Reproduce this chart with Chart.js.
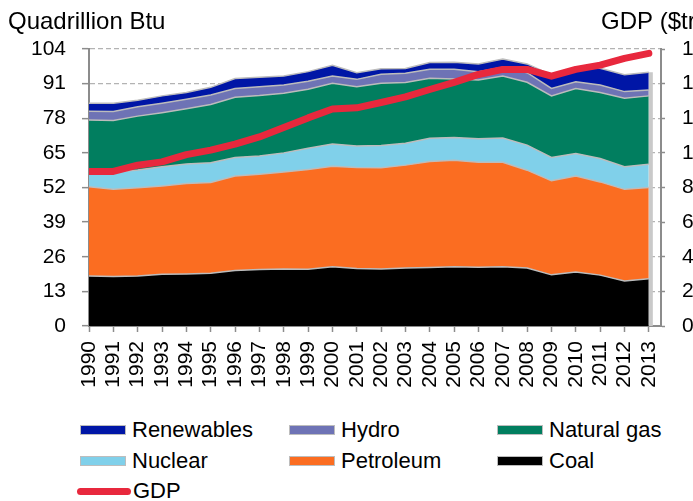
<!DOCTYPE html>
<html>
<head>
<meta charset="utf-8">
<script src="https://cdn.jsdelivr.net/npm/chart.js@4.4.0/dist/chart.umd.min.js"></script>
<style>
  html, body { margin: 0; padding: 0; background: #fff; overflow: hidden; }
  #wrap { position: relative; width: 693px; height: 501px; overflow: hidden; }
  #chartBox { position: absolute; left: 0; top: 0; width: 770px; height: 400px; }
  .item {
    position: absolute; height: 24px; display: flex; align-items: center; white-space: nowrap;
    font-family: 'Liberation Sans', Arial, sans-serif; font-size: 22px; color: #000;
  }
  .swatch { width: 44px; height: 8px; border: 1.5px solid #bdbdbd; margin-right: 6px; }
  .line { width: 54px; height: 7px; border-radius: 4px; margin-right: 2px; }
</style>
</head>
<body>
<div id="wrap">
  <div id="chartBox"><canvas id="energyChart"></canvas></div>
  <div id="legend"></div>
</div>
<script>
const years = [1990, 1991, 1992, 1993, 1994, 1995, 1996, 1997, 1998, 1999, 2000, 2001,
               2002, 2003, 2004, 2005, 2006, 2007, 2008, 2009, 2010, 2011, 2012, 2013];

// Quadrillion Btu, stacked bottom to top
const coal       = [18.8, 18.6, 18.8, 19.4, 19.5, 19.8, 20.8, 21.2, 21.4, 21.3, 22.2, 21.6,
                    21.4, 21.8, 22.0, 22.2, 22.1, 22.2, 21.8, 19.2, 20.3, 19.1, 16.9, 17.7];
const petroleum  = [33.5, 32.7, 33.1, 33.2, 34.0, 34.1, 35.5, 35.8, 36.4, 37.5, 37.8, 37.9,
                    38.0, 38.6, 39.8, 40.0, 39.4, 39.3, 36.7, 35.3, 36.0, 35.0, 34.4, 34.3];
const nuclear    = [6.0, 6.4, 6.7, 7.2, 7.3, 7.4, 7.0, 6.8, 7.2, 7.9, 8.3, 8.1,
                    8.4, 8.2, 8.7, 8.6, 8.8, 9.1, 9.4, 8.8, 8.5, 8.8, 8.5, 8.7];
const naturalGas = [19.0, 19.5, 20.2, 20.3, 20.8, 21.9, 22.6, 22.7, 22.4, 22.2, 22.8, 22.2,
                    23.3, 22.8, 22.5, 21.9, 22.1, 23.3, 23.6, 23.1, 24.4, 24.8, 25.7, 25.7];
const hydro      = [3.3, 3.3, 3.5, 3.5, 3.5, 3.5, 3.3, 3.3, 3.1, 3.0, 2.8, 2.8,
                    3.4, 3.5, 3.4, 3.7, 3.1, 3.2, 3.6, 2.8, 2.5, 2.8, 2.5, 2.2];
const renewables = [3.0, 3.1, 2.5, 2.8, 2.6, 2.9, 3.7, 3.6, 3.4, 3.6, 4.0, 2.5,
                    2.1, 1.8, 2.5, 2.6, 2.9, 3.1, 3.3, 5.1, 5.1, 6.3, 6.3, 6.7];

// $ trillion
const gdp = [8.93, 8.93, 9.29, 9.48, 9.90, 10.16, 10.50, 10.92, 11.47, 12.02, 12.53, 12.60,
             12.91, 13.24, 13.66, 14.07, 14.53, 14.82, 14.82, 14.43, 14.82, 15.07, 15.46, 15.75];

const FONT = "'Liberation Sans', Arial, sans-serif";
const AXIS_GREY = '#8c8c8c';

const series = [
    { label: 'Coal', data: coal, color: '#000000' },
    { label: 'Petroleum', data: petroleum, color: '#fb6d21' },
    { label: 'Nuclear', data: nuclear, color: '#80d0ea' },
    { label: 'Natural gas', data: naturalGas, color: '#017e5f' },
    { label: 'Hydro', data: hydro, color: '#6e73b5' },
    { label: 'Renewables', data: renewables, color: '#0016a6' },
];
const GDP_COLOR = '#e8283d';

const toPoints = arr => years.map((yr, i) => ({ x: yr, y: arr[i] }));

const datasets = series.map((s, i) => ({
    label: s.label,
    data: toPoints(s.data),
    yAxisID: 'y',
    backgroundColor: s.color,
    borderColor: '#bcbcbc',
    borderWidth: 1.5,
    pointRadius: 0,
    tension: 0,
    fill: i === 0 ? 'origin' : '-1',
    order: 1,
}));
datasets.push({
    label: 'GDP',
    data: toPoints(gdp),
    yAxisID: 'y2',
    borderColor: GDP_COLOR,
    backgroundColor: GDP_COLOR,
    borderWidth: 7,
    borderCapStyle: 'round',
    borderJoinStyle: 'round',
    pointRadius: 0,
    tension: 0,
    fill: false,
    order: 0,
});

// titles above the two value axes + the grey edge at the end of the areas
const extras = {
    id: 'extras',
    beforeDatasetDraw(chart, args) {
        if (args.index !== datasets.length - 1) return;
        const { ctx, scales } = chart;
        const last = years.length - 1;
        const top = coal[last] + petroleum[last] + nuclear[last] + naturalGas[last] + hydro[last] + renewables[last];
        const x = scales.x.getPixelForValue(years[last]) + 2;
        ctx.save();
        ctx.strokeStyle = '#c9c9c9';
        ctx.lineWidth = 4;
        ctx.beginPath();
        ctx.moveTo(x, scales.y.getPixelForValue(0));
        ctx.lineTo(x, scales.y.getPixelForValue(top));
        ctx.stroke();
        ctx.restore();
    },
    afterDraw(chart) {
        const { ctx, chartArea } = chart;
        ctx.save();
        ctx.font = '24px ' + FONT;
        ctx.fillStyle = '#000';
        ctx.textBaseline = 'middle';
        ctx.textAlign = 'left';
        ctx.fillText('Quadrillion Btu', chartArea.left - 81, 22);
        ctx.fillText('GDP ($trillion)', chartArea.right - 60, 22);
        ctx.restore();
    },
};

new Chart(document.getElementById('energyChart'), {
    type: 'line',
    data: { datasets },
    options: {
        responsive: true,
        maintainAspectRatio: false,
        animation: false,
        layout: { padding: { top: 49, left: 0, right: 0, bottom: 0 } },
        plugins: { legend: { display: false }, tooltip: { enabled: false } },
        scales: {
            x: {
                type: 'linear',
                min: 1990,
                max: 2013.5,
                afterFit: s => { s.height = 74; },
                ticks: {
                    stepSize: 1,
                    includeBounds: false,
                    autoSkip: false,
                    minRotation: 90,
                    maxRotation: 90,
                    padding: 9,
                    color: '#000',
                    font: { family: FONT, size: 21 },
                    callback: v => String(v),
                },
                grid: { drawOnChartArea: false, tickLength: 6, tickColor: AXIS_GREY, tickWidth: 1.5 },
                border: { color: AXIS_GREY, width: 2 },
            },
            y: {
                position: 'left',
                stacked: true,
                min: 0,
                max: 104,
                afterFit: s => { s.width = 89; },
                ticks: { stepSize: 13, padding: 16, color: '#000', font: { family: FONT, size: 21 } },
                grid: { color: '#b3b3b3', lineWidth: 1.3, tickLength: 7, tickColor: AXIS_GREY, tickWidth: 1.5 },
                border: { color: AXIS_GREY, width: 2, dash: [5, 3] },
            },
            y2: {
                position: 'right',
                min: 0,
                max: 16,
                afterFit: s => { s.width = 109; },
                ticks: { stepSize: 2, padding: 17, color: '#000', font: { family: FONT, size: 21 } },
                grid: { drawOnChartArea: false, tickLength: 4, tickColor: AXIS_GREY, tickWidth: 1.5 },
                border: { color: AXIS_GREY, width: 2 },
            },
        },
    },
    plugins: [extras],
});

// legend laid out in three columns like the original
const legendRows = [
    ['Renewables', 'Hydro', 'Natural gas'],
    ['Nuclear', 'Petroleum', 'Coal'],
];
const legendCols = [80, 289, 497];
const legendTops = [418, 449, 479];
const legendEl = document.getElementById('legend');
legendRows.forEach((row, r) => {
    row.forEach((name, c) => {
        const s = series.find(d => d.label === name);
        const item = document.createElement('div');
        item.className = 'item';
        item.style.left = legendCols[c] + 'px';
        item.style.top = legendTops[r] + 'px';
        const sw = document.createElement('span');
        sw.className = 'swatch';
        sw.style.background = s.color;
        item.appendChild(sw);
        item.appendChild(document.createTextNode(name));
        legendEl.appendChild(item);
    });
});
const gdpItem = document.createElement('div');
gdpItem.className = 'item';
gdpItem.style.left = '77px';
gdpItem.style.top = legendTops[2] + 'px';
const gl = document.createElement('span');
gl.className = 'line';
gl.style.background = GDP_COLOR;
gdpItem.appendChild(gl);
gdpItem.appendChild(document.createTextNode('GDP'));
legendEl.appendChild(gdpItem);
</script>
</body>
</html>
